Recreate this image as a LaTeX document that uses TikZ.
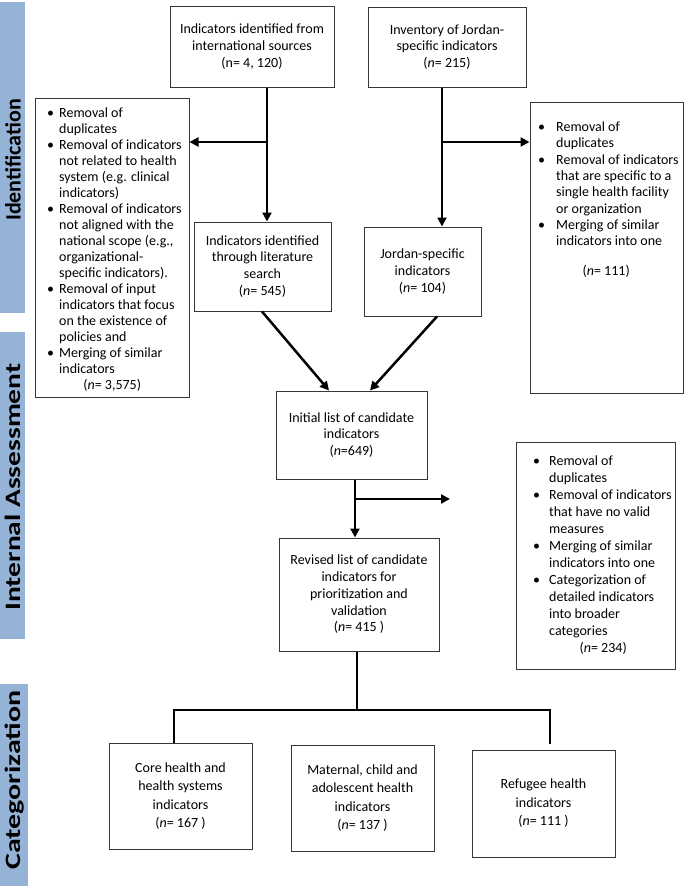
\documentclass[tikz,border=0pt]{standalone}
\usepackage{fontspec}
\usepackage{graphicx}
\setmainfont{Carlito}
\usetikzlibrary{arrows.meta,calc}
\definecolor{barblue}{RGB}{149,179,215}
\definecolor{boxline}{RGB}{55,55,55}
\newcommand{\bfont}{\fontsize{14}{16.8}\selectfont}
\newcommand{\lfont}{\fontsize{14}{16}\selectfont}
\newcommand{\qfont}{\fontsize{14}{16.3}\selectfont}
\newcommand{\rfont}{\fontsize{14}{17}\selectfont}
\newcommand{\cfont}{\fontsize{14}{18.5}\selectfont}
\newcommand{\tfont}{\fontsize{22}{24}\selectfont\bfseries}
\newcommand{\bl}[2]{\makebox[#1][l]{\textbullet}#2}
\newcommand{\ind}[2]{\hspace*{#1}#2}
\newcommand{\nn}{\textit{n}}
\begin{document}
\begin{tikzpicture}[x=1pt,y=-1pt,
  box/.style={draw=boxline, line width=1pt, inner sep=0pt, align=center, font=\bfont},
  catbox/.style={box, font=\cfont},
  listtext/.style={inner sep=0pt, anchor=north west, align=left, font=\lfont},
  conn/.style={line width=2.5pt, draw=black, line join=miter},
  arr/.style={conn, -{Triangle[length=9pt,width=9pt]}},
  bar/.style={fill=barblue, draw=none, inner sep=0pt},
  bartext/.style={rotate=90, font=\tfont, inner sep=0pt}]

\useasboundingbox (0,0) rectangle (685,886);
\fill[white] (0,0) rectangle (685,886);

% side bars
\node[bar, minimum width=25pt, minimum height=311pt] (barI) at (12.5,157.5) {};
\node[bartext] (tI) at (13,160) {Identification};
\node[bar, minimum width=25pt, minimum height=307pt] (barA) at (12.5,485.5) {};
\node[bartext] (tA) at (13,487) {\scalebox{1.34}[1]{Internal Assessment}};
\node[bar, minimum width=28pt, minimum height=202pt] (barC) at (14,785) {};
\node[bartext] (tC) at (14.5,780) {\scalebox{1.36}[1]{Categorization}};

% main boxes
\node[box, minimum width=164pt, minimum height=81pt] (A) at (252,46.5)
  {Indicators identified from\\international sources\\(n= 4, 120)};
\node[box, minimum width=158pt, minimum height=80pt] (B) at (447,47)
  {Inventory of Jordan-\\specific indicators\\(\nn= 215)};
\node[box, minimum width=137pt, minimum height=89pt] (C) at (262.5,266.5)
  {Indicators identified\\through literature\\search\\(\nn= 545)};
\node[box, minimum width=117pt, minimum height=89pt] (D) at (422.5,271.5)
  {Jordan-specific\\indicators\\(\nn= 104)};
\node[box, minimum width=151pt, minimum height=88pt] (E) at (351.5,435)
  {Initial list of candidate\\indicators\\(\nn=649)};
\node[box, minimum width=160pt, minimum height=113pt] (F) at (359,594.5)
  {Revised list of candidate\\indicators for\\prioritization and\\validation\\(\nn= 415 )};
\node[catbox, minimum width=143pt, minimum height=106pt] (G) at (180.5,796)
  {Core health and\\health systems\\indicators\\(\nn= 167 )};
\node[catbox, minimum width=143pt, minimum height=106pt] (H) at (362.5,798)
  {Maternal, child and\\adolescent health\\indicators\\(\nn= 137 )};
\node[catbox, minimum width=143pt, minimum height=107pt] (I) at (543.5,803.5)
  {Refugee health\\indicators\\(\nn= 111 )};

% list boxes
\node[box, minimum width=154pt, minimum height=299pt] (L1) at (112,247.5) {};
\node[listtext] (L1t) at (47,106) {\strut\bl{12pt}{Removal of}\\
  \ind{12pt}{duplicates}\\
  \bl{12pt}{Removal of indicators}\\
  \ind{12pt}{not related to health}\\
  \ind{12pt}{system (e.g. clinical}\\
  \ind{12pt}{indicators)}\\
  \bl{12pt}{Removal of indicators}\\
  \ind{12pt}{not aligned with the}\\
  \ind{12pt}{national scope (e.g.,}\\
  \ind{12pt}{organizational-}\\
  \ind{12pt}{specific indicators).}\\
  \bl{12pt}{Removal of input}\\
  \ind{12pt}{indicators that focus}\\
  \ind{12pt}{on the existence of}\\
  \ind{12pt}{policies and}\\
  \bl{12pt}{Merging of similar}\\
  \ind{12pt}{indicators}\\
  \makebox[130pt][c]{(\nn= 3,575)}};

\node[box, minimum width=153pt, minimum height=291pt] (R1) at (606.5,247.5) {};
\node[listtext, font=\qfont] (R1t) at (538,120) {\strut\bl{18pt}{Removal of}\\
  \ind{18pt}{duplicates}\\
  \bl{18pt}{Removal of indicators}\\
  \ind{18pt}{that are specific to a}\\
  \ind{18pt}{single health facility}\\
  \ind{18pt}{or organization}\\
  \bl{18pt}{Merging of similar}\\
  \ind{18pt}{indicators into one}\\[13pt]
  \makebox[136pt][c]{(\nn= 111)}};

\node[box, minimum width=159pt, minimum height=227pt] (R2) at (595.5,555.5) {};
\node[listtext, font=\rfont] (R2t) at (533,453) {\strut\bl{16pt}{Removal of}\\
  \ind{16pt}{duplicates}\\
  \bl{16pt}{Removal of indicators}\\
  \ind{16pt}{that have no valid}\\
  \ind{16pt}{measures}\\
  \bl{16pt}{Merging of similar}\\
  \ind{16pt}{indicators into one}\\
  \bl{16pt}{Categorization of}\\
  \ind{16pt}{detailed indicators}\\
  \ind{16pt}{into broader}\\
  \ind{16pt}{categories}\\
  \makebox[140pt][c]{(\nn= 234)}};

% connector anchors
\coordinate (sA) at (267,0);
\coordinate (sB) at (442,0);
\coordinate (jL) at (0,142);
\coordinate (c1) at (262,0);
\coordinate (e1) at (329,0);
\coordinate (d1) at (437,0);
\coordinate (e2) at (370,0);
\coordinate (sE) at (355,0);
\coordinate (jE) at (0,499);
\coordinate (tipE) at (450,499);
\coordinate (sF) at (357,0);
\coordinate (hz) at (0,710);
\coordinate (gx) at (174,0);
\coordinate (ix) at (550,0);
\coordinate (ie) at ($(ix |- I.north)+(0,-6)$);

% connectors
\draw[arr] (sA |- A.south) -- (sA |- C.north);
\draw[arr] (sA |- jL) -- (L1.east |- jL);
\draw[arr] (sB |- B.south) -- (sB |- D.north);
\draw[arr] (sB |- jL) -- (R1.west |- jL);
\draw[arr] (c1 |- C.south) -- (e1 |- E.north);
\draw[arr] (d1 |- D.south) -- (e2 |- E.north);
\draw[arr] (sE |- E.south) -- (sE |- F.north);
\draw[arr] (sE |- jE) -- (tipE);
\draw[conn] (sF |- F.south) -- (sF |- hz);
\draw[conn] (gx |- G.north) -- (gx |- hz) -- (ix |- hz) -- (ie);
\end{tikzpicture}
\end{document}
